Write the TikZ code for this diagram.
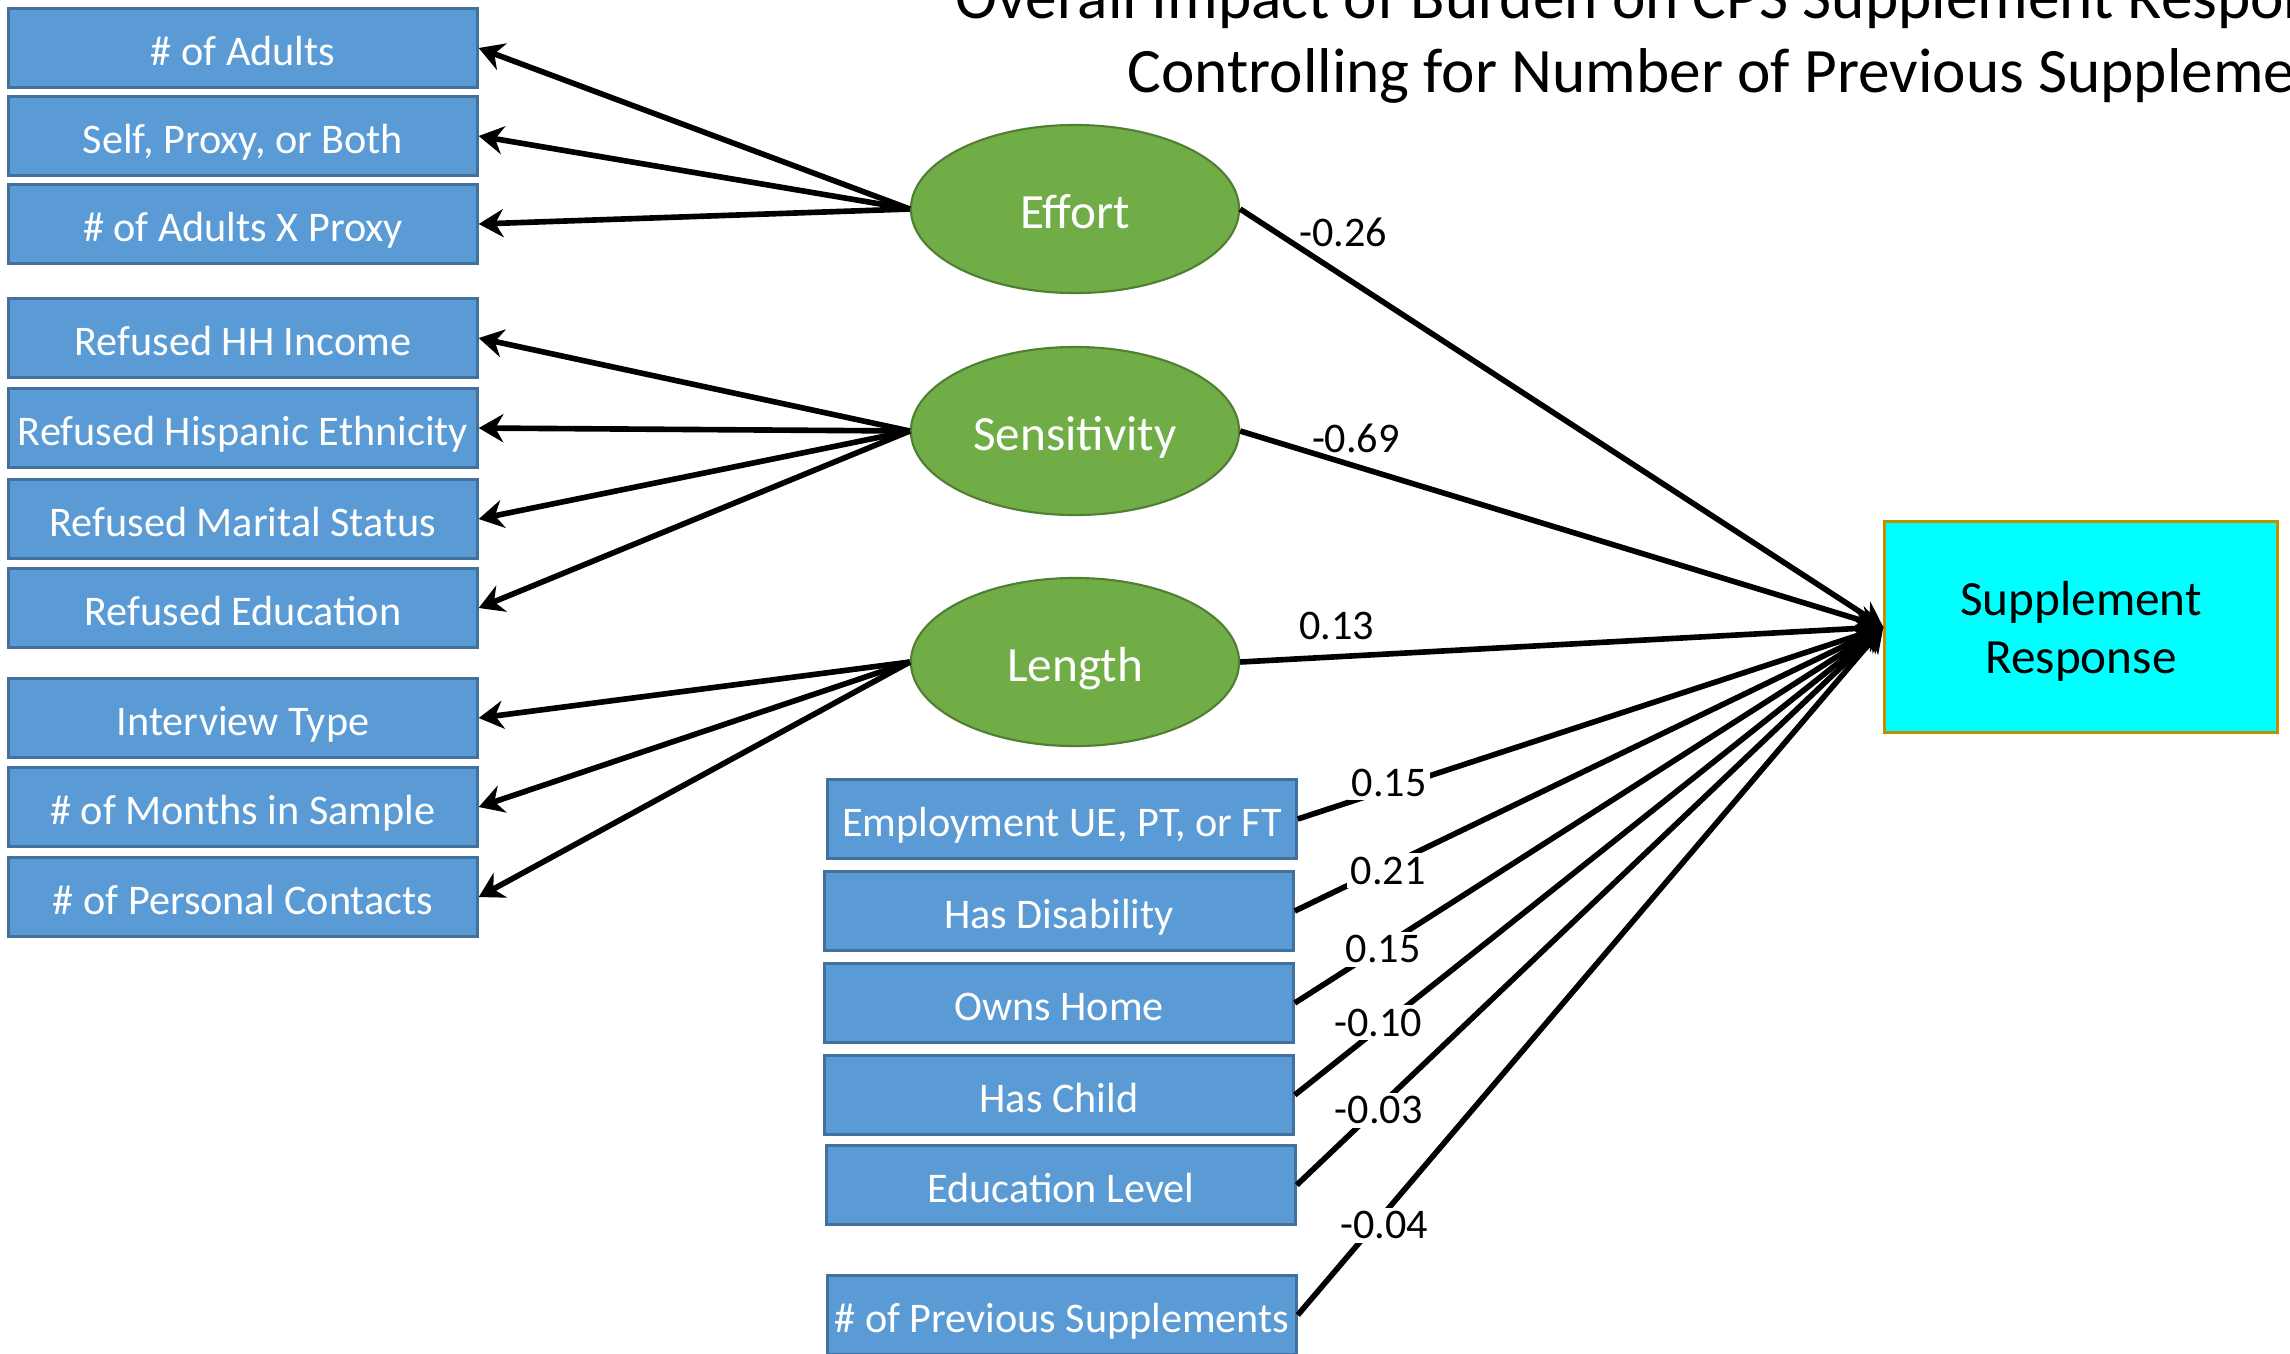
\documentclass[tikz,border=0pt]{standalone}
\usepackage{fontspec}
\setmainfont{Carlito}
\usetikzlibrary{arrows.meta,shapes.geometric}
\definecolor{boxblue}{HTML}{5B9BD5}
\definecolor{boxedge}{HTML}{41719C}
\definecolor{leafgreen}{HTML}{70AD47}
\definecolor{leafedge}{HTML}{507E32}
\definecolor{respcyan}{HTML}{00FFFF}
\definecolor{respedge}{HTML}{BF9000}
\tikzset{itembox/.style={draw=boxedge,fill=boxblue,line width=.9pt,minimum width=4.68cm,minimum height=.79cm,inner sep=0pt,text height=9.8pt,text depth=0pt,text=white,font=\fontsize{12}{14}\selectfont},factordisk/.style={ellipse,draw=leafedge,fill=leafgreen,line width=.6pt,minimum width=3.28cm,minimum height=1.68cm,inner sep=0pt,text height=10.8pt,text depth=0pt,text=white,font=\fontsize{14}{17}\selectfont},outcomebox/.style={draw=respedge,fill=respcyan,line width=.9pt,minimum width=3.92cm,minimum height=2.11cm,inner sep=0pt,text height=26.5pt,text depth=0pt,align=center,font=\fontsize{14}{16.4}\selectfont},pathline/.style={line width=1.6pt,-{Stealth[length=7pt,width=8pt]}},coeflabel/.style={font=\fontsize{12}{14}\selectfont,inner sep=1pt},cutlabel/.style={coeflabel,fill=white},titletext/.style={font=\fontsize{18}{22}\selectfont,inner sep=0pt}}

\begin{document}
\begin{tikzpicture}[x=.01cm,y=-.01cm]
\clip (0,0) rectangle (2290,1353);
% title (runs past the right edge)
\node[titletext,anchor=base west] (title1) at (955,18) {Overall Impact of Burden on CPS Supplement Response};
\node[titletext,anchor=base west] (title2) at (1127,92) {Controlling for Number of Previous Supplements};
% indicators
\node[itembox] (adults) at (243,48) {\# of Adults};
\node[itembox] (proxy) at (243,136) {Self, Proxy, or Both};
\node[itembox] (adproxy) at (243,224) {\# of Adults X Proxy};
\node[itembox] (income) at (243,338) {Refused HH Income};
\node[itembox] (hispanic) at (243,428) {Refused Hispanic Ethnicity};
\node[itembox] (marital) at (243,519) {Refused Marital Status};
\node[itembox] (educref) at (243,608) {Refused Education};
\node[itembox] (itype) at (243,718) {Interview Type};
\node[itembox] (months) at (243,807) {\# of Months in Sample};
\node[itembox] (contacts) at (243,897) {\# of Personal Contacts};
% latent factors
\node[factordisk] (effort) at (1075,209) {Effort};
\node[factordisk] (sens) at (1075,431) {Sensitivity};
\node[factordisk] (length) at (1075,662) {Length};
% outcome
\node[outcomebox] (resp) at (2081,627) {Supplement\\Response};
% covariates
\node[itembox] (employ) at (1062,819) {Employment UE, PT, or FT};
\node[itembox] (disab) at (1059,911) {Has Disability};
\node[itembox] (home) at (1059,1003) {Owns Home};
\node[itembox] (child) at (1059,1095) {Has Child};
\node[itembox] (edlevel) at (1061,1185) {Education Level};
\node[itembox] (prevsup) at (1062,1315) {\# of Previous Supplements};
% loadings
\foreach \t in {adults,proxy,adproxy}
  \draw[pathline] (effort.west) -- (\t.east);
\foreach \t in {income,hispanic,marital,educref}
  \draw[pathline] (sens.west) -- (\t.east);
\foreach \t in {itype,months,contacts}
  \draw[pathline] (length.west) -- (\t.east);
% paths to response
\draw[pathline] (effort.east) -- node[coeflabel,pos=.16,above=6.5pt] {-0.26} (resp.west);
\draw[pathline] (sens.east) -- node[coeflabel,pos=.18,above=2pt] {-0.69} (resp.west);
\draw[pathline] (length.east) -- node[coeflabel,pos=.15,above=3pt] {0.13} (resp.west);
\draw[pathline] (employ.east) -- node[cutlabel,pos=.156,yshift=1.7pt] {0.15} (resp.west);
\draw[pathline] (disab.east) -- node[cutlabel,pos=.159,yshift=-1.4pt] {0.21} (resp.west);
\draw[pathline] (home.east) -- node[cutlabel,pos=.15,yshift=-.8pt] {0.15} (resp.west);
\draw[pathline] (child.east) -- node[cutlabel,pos=.142,yshift=1.7pt] {-0.10} (resp.west);
\draw[pathline] (edlevel.east) -- node[cutlabel,pos=.14,yshift=-1pt] {-0.03} (resp.west);
\draw[pathline] (prevsup.east) -- node[cutlabel,pos=.148,yshift=-3.4pt] {-0.04} (resp.west);
\end{tikzpicture}
\end{document}
